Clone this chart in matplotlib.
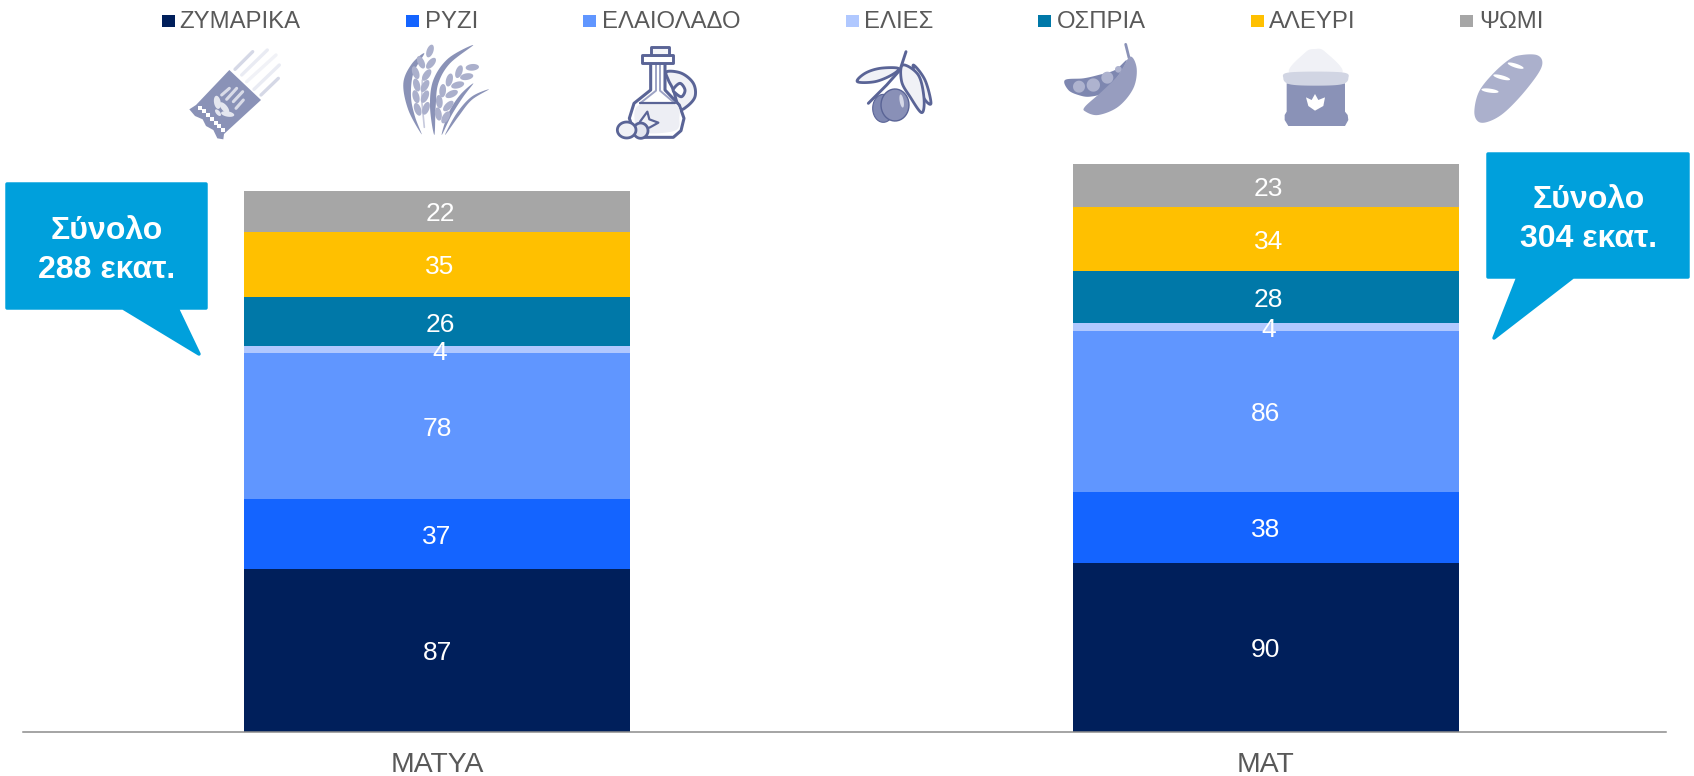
import numpy as np
import matplotlib
matplotlib.use('Agg')
import matplotlib.pyplot as plt
from matplotlib.patches import Polygon, Rectangle

plt.rcParams['font.family'] = ['Liberation Sans', 'DejaVu Sans']

# data
categories = ['ΜΑΤΥΑ', 'ΜΑΤ']
series_names = ['ΖΥΜΑΡΙΚΑ', 'ΡΥΖΙ', 'ΕΛΑΙΟΛΑΔΟ', 'ΕΛΙΕΣ', 'ΟΣΠΡΙΑ', 'ΑΛΕΥΡΙ', 'ΨΩΜΙ']
zymarika = [87, 90]
ryzi = [37, 38]
elaiolado = [78, 86]
elies = [4, 4]
ospria = [26, 28]
aleyri = [35, 34]
psomi = [22, 23]
totals = [288, 304]

colors = ['#001F5B', '#1464FF', '#6096FF', '#B0C8FF', '#0078A8', '#FFC000', '#A6A6A6']
GREY_TXT = '#595959'
CALLOUT = '#00A0DC'
ICON_DARK = '#8A92B7'
ICON_MID = '#ABB0CC'
ICON_LINE = '#5A6496'
ICON_PALE = '#F0F1F6'

W, H = 1694, 776
fig = plt.figure(figsize=(W / 100, H / 100), dpi=100)

# stacked bars
ax = fig.add_axes([23 / W, (H - 731.5) / H, (1666 - 23) / W, 731.5 / H])
stack = [zymarika, ryzi, elaiolado, elies, ospria, aleyri, psomi]
bottom = np.zeros(2)
for i, vals in enumerate(stack):
    bars = ax.bar(range(2), vals, width=0.466, bottom=bottom, color=colors[i], linewidth=0)
    for j, v in enumerate(vals):
        # upper segments carry their numbers slightly right of centre
        dx = 0.0035 if i > 2 else 0
        ax.annotate(str(v), (j + dx, bottom[j] + v / 2), xytext=(0, -3), textcoords='offset pixels',
                    ha='center', va='center', color='white', fontsize=19)
    bottom += np.array(vals)
ax.set_xlim(-0.4997, 1.483)
ax.set_ylim(0, 390.8)
ax.set_xticks(range(2))
ax.set_xticklabels(categories, fontsize=20.4, color=GREY_TXT)
ax.tick_params(axis='x', length=0, pad=15)
ax.set_yticks([])
for s in ['top', 'left', 'right']:
    ax.spines[s].set_visible(False)
ax.spines['bottom'].set_color('#8C8C8C')
ax.spines['bottom'].set_linewidth(1.1)
ax.patch.set_alpha(0)

# overlay in pixel coordinates for legend, callouts and icons
ov = fig.add_axes([0, 0, 1, 1], zorder=5)
ov.set_xlim(0, W)
ov.set_ylim(H, 0)
ov.axis('off')

legend_box_x = [162, 406, 583, 846, 1038, 1251, 1460]
legend_text_x = [179.5, 424.8, 601.6, 864, 1057, 1269, 1479]
for name, c, bx, tx in zip(series_names, colors, legend_box_x, legend_text_x):
    ov.add_patch(Rectangle((bx, 14.5), 12.5, 12, color=c, lw=0))
    ov.text(tx, 21.5, name, fontsize=17.2, color=GREY_TXT, va='center', ha='left')


def callout(pts, cx, y1, y2, total):
    ov.add_patch(Polygon(pts, closed=True, fc=CALLOUT, ec=CALLOUT, lw=2.5, joinstyle='round'))
    ov.text(cx, y1, 'Σύνολο', fontsize=23, fontweight='bold', color='white', ha='center', va='center')
    ov.text(cx, y2, f'{total} εκατ.', fontsize=23, fontweight='bold', color='white', ha='center', va='center')


callout([(7, 184), (206, 184), (206, 308), (177, 308), (199, 354), (123, 308), (7, 308)],
        106.5, 231, 270, totals[0])
callout([(1488, 154), (1688, 154), (1688, 277), (1573, 277), (1494, 338), (1518, 277), (1488, 277)],
        1589, 200, 239, totals[1])


# each icon is sketched on its own grid of third-pixels
def grid(x0, y0):
    def g(pts):
        p = np.array(pts, dtype=float)
        return np.column_stack([x0 + p[:, 0] / 3, y0 + p[:, 1] / 3])
    return g


def smooth(pts, n=10):
    # closed catmull-rom through the given points
    p = np.array(pts, dtype=float)
    out = []
    m = len(p)
    for i in range(m):
        p0, p1, p2, p3 = p[i - 1], p[i], p[(i + 1) % m], p[(i + 2) % m]
        for t in np.linspace(0, 1, n, endpoint=False):
            out.append(0.5 * (2 * p1 + (p2 - p0) * t + (2 * p0 - 5 * p1 + 4 * p2 - p3) * t ** 2
                              + (3 * p1 - p0 - 3 * p2 + p3) * t ** 3))
    return np.array(out)


def ell(cx, cy, rx, ry, deg=0):
    t = np.linspace(0, 2 * np.pi, 40)
    a = np.radians(deg)
    x, y = rx * np.cos(t), ry * np.sin(t)
    return np.column_stack([cx + x * np.cos(a) - y * np.sin(a), cy + x * np.sin(a) + y * np.cos(a)])


def blob(g, pts, fc, ec='none', lw=0, z=6):
    ov.add_patch(Polygon(g(pts), closed=True, fc=fc, ec=ec, lw=lw, zorder=z, joinstyle='round'))


def stroke(g, pts, c, lw, z=6):
    q = g(pts)
    ov.plot(q[:, 0], q[:, 1], color=c, lw=lw, solid_capstyle='round', solid_joinstyle='round', zorder=z)


# pasta bag
g = grid(180, 40)
strands = [[(165, 88), (218, 35)], [(185, 105), (262, 30)], [(200, 125), (288, 45)],
           [(222, 148), (298, 75)], [(243, 165), (295, 115)]]
strand_cols = ['#D5D8E6', '#E9EBF3', '#F1F2F7', '#E9EBF3', '#D5D8E6']
for seg, c in zip(strands, strand_cols):
    stroke(g, seg, c, 2.4)
blob(g, [(148, 90), (243, 180), (132, 282), (130, 298), (112, 295), (100, 270), (78, 258), (68, 238),
         (45, 228), (28, 208), (48, 195)], ICON_DARK)
for t in np.linspace(0, 1, 7):
    q = g([(60 + 70 * t, 203 + 67 * t)])
    ov.plot(q[:, 0], q[:, 1], 's', color='white', ms=2.2, mew=0, zorder=7)
for seg in [[(125, 165), (148, 145)], [(140, 178), (170, 145)], [(160, 185), (188, 155)], [(168, 205), (190, 180)]]:
    stroke(g, seg, '#D9DBE8', 2.2, z=7)
for e in [ell(112, 187, 20, 10, 80), ell(133, 203, 20, 9, 50), ell(143, 222, 20, 8, 10), ell(114, 218, 12, 6, 50)]:
    blob(g, e, '#E4E6EF', z=7)

# wheat
g = grid(395, 40)
blob(g, smooth([(80, 283), (40, 210), (25, 130), (50, 72), (88, 40), (55, 100), (48, 170), (60, 230)]), ICON_DARK)
blob(g, smooth([(118, 285), (105, 200), (115, 120), (160, 55), (235, 15), (165, 70), (130, 130), (122, 200)]), ICON_DARK)
blob(g, smooth([(140, 285), (160, 220), (195, 165), (235, 130), (205, 170), (170, 225)]), ICON_DARK)
blob(g, smooth([(150, 285), (185, 220), (230, 170), (282, 148), (230, 180), (190, 230)]), ICON_DARK)
stroke(g, [(88, 262), (80, 180), (82, 120)], '#C7CADD', 1.2)
left_ear = [(105, 33, -70), (78, 67, 65), (108, 70, -50), (62, 98, 70), (95, 105, -55),
            (65, 135, 75), (90, 138, -60), (63, 170, 75), (90, 170, -65), (68, 208, 70), (93, 205, -70)]
right_ear = [(232, 82, -5), (192, 95, -70), (215, 110, -10), (163, 120, -75), (188, 135, -15),
             (143, 152, -85), (170, 162, -25), (133, 185, 85), (160, 198, -45), (130, 222, 80), (152, 232, -60)]
for cx, cy, deg in left_ear + right_ear:
    blob(g, ell(cx, cy, 20, 10, deg), ICON_MID)

# oil bottle
g = grid(610, 40)
blob(g, smooth([(170, 95), (215, 100), (250, 130), (255, 170), (230, 200), (208, 205), (190, 150), (175, 120)]),
     ICON_PALE, ICON_LINE, 2.1)
blob(g, smooth([(190, 148), (210, 130), (225, 150), (215, 170), (197, 160)]), 'white', ICON_LINE, 2.1, z=6.1)
blob(g, [(122, 68), (122, 150), (72, 190), (58, 235), (72, 275), (100, 292), (190, 292), (213, 272), (222, 235),
         (208, 195), (165, 150), (165, 68)], 'white', ICON_LINE, 2.2, z=6.2)
blob(g, smooth([(90, 194), (195, 194), (208, 235), (195, 272), (100, 278), (74, 240)]), '#EDEEF4', z=6.3)
stroke(g, [(138, 70), (138, 152), (90, 190)], '#9CA2C4', 1.4, z=6.4)
stroke(g, [(150, 70), (150, 152), (195, 190)], '#9CA2C4', 1.4, z=6.4)
stroke(g, [(90, 188), (195, 188)], ICON_LINE, 1.6, z=6.4)
blob(g, [(95, 45), (190, 45), (190, 68), (95, 68)], 'white', ICON_LINE, 2.1, z=6.5)
blob(g, [(122, 20), (178, 20), (178, 45), (122, 45)], '#F4F5F9', ICON_LINE, 2.1, z=6.5)
blob(g, [(90, 245), (112, 215), (118, 238), (145, 248), (120, 262), (100, 270)], ICON_PALE, ICON_LINE, 1.6, z=6.6)
blob(g, ell(92, 272, 22, 23), '#E4E6EF', ICON_LINE, 2, z=6.7)
blob(g, ell(50, 270, 28, 24), ICON_PALE, ICON_LINE, 2, z=6.8)

# olive branch
g = grid(850, 40)
stroke(g, [(168, 35), (150, 90), (110, 135), (55, 190)], ICON_LINE, 2.1)
blob(g, smooth([(145, 85), (90, 85), (45, 100), (22, 125), (75, 125), (125, 105)]), ICON_PALE, ICON_LINE, 2)
blob(g, smooth([(190, 75), (225, 120), (243, 190), (222, 175), (200, 120)]), ICON_PALE, ICON_LINE, 2)
blob(g, smooth([(158, 75), (155, 125), (180, 170), (215, 218), (222, 175), (205, 105)]), ICON_PALE, ICON_LINE, 2)
blob(g, ell(100, 205, 32, 42), '#7F88B2', ICON_LINE, 0.8, z=6.5)
blob(g, ell(135, 195, 42, 48), '#8990B7', ICON_LINE, 1, z=6.6)
blob(g, ell(155, 183, 6, 20, -10), '#D5D8E8', z=6.7)

# pea pod
g = grid(1055, 35)
stroke(g, [(212, 28), (222, 68)], ICON_DARK, 2)
blob(g, smooth([(215, 75), (180, 105), (130, 120), (85, 130), (30, 135), (40, 165), (70, 180), (105, 185), (150, 170), (195, 115)]), '#7E87B0')
for cx, cy, r in [(72, 155, 18), (115, 150, 20), (157, 128, 18), (190, 103, 10)]:
    blob(g, ell(cx, cy, r, r), '#AEB3CF', z=6.1)
blob(g, smooth([(225, 65), (245, 100), (235, 160), (190, 215), (130, 240), (92, 230), (90, 215), (140, 170), (190, 120)]), '#979DBF', z=6.2)

# flour sack
g = grid(1270, 40)
blob(g, smooth([(135, 27), (165, 35), (215, 100), (60, 100), (105, 38)]), ICON_PALE)
blob(g, [(50, 130), (225, 130), (225, 215), (233, 225), (235, 240), (225, 258), (55, 258), (44, 240), (44, 225), (50, 215)], ICON_DARK)
blob(g, smooth([(60, 97), (215, 97), (235, 115), (215, 133), (137, 137), (60, 133), (40, 115)]), '#D1D5E3', z=6.1)
blob(g, [(135, 162), (145, 180), (165, 172), (160, 198), (135, 212), (115, 198), (108, 172), (125, 180)], 'white', z=7)

# bread
g = grid(1465, 45)
blob(g, smooth([(215, 30), (232, 50), (220, 85), (170, 150), (115, 205), (70, 230), (40, 230), (28, 200),
                (42, 140), (85, 85), (135, 42), (170, 30)]), ICON_MID)
for cx, cy, rx, ry, deg in [(152, 62, 25, 6, 18), (110, 97, 26, 6, 15), (75, 137, 26, 6, 8)]:
    blob(g, ell(cx, cy, rx, ry, deg), 'white', z=7)

fig.savefig('out.png', dpi=100, facecolor='white')
